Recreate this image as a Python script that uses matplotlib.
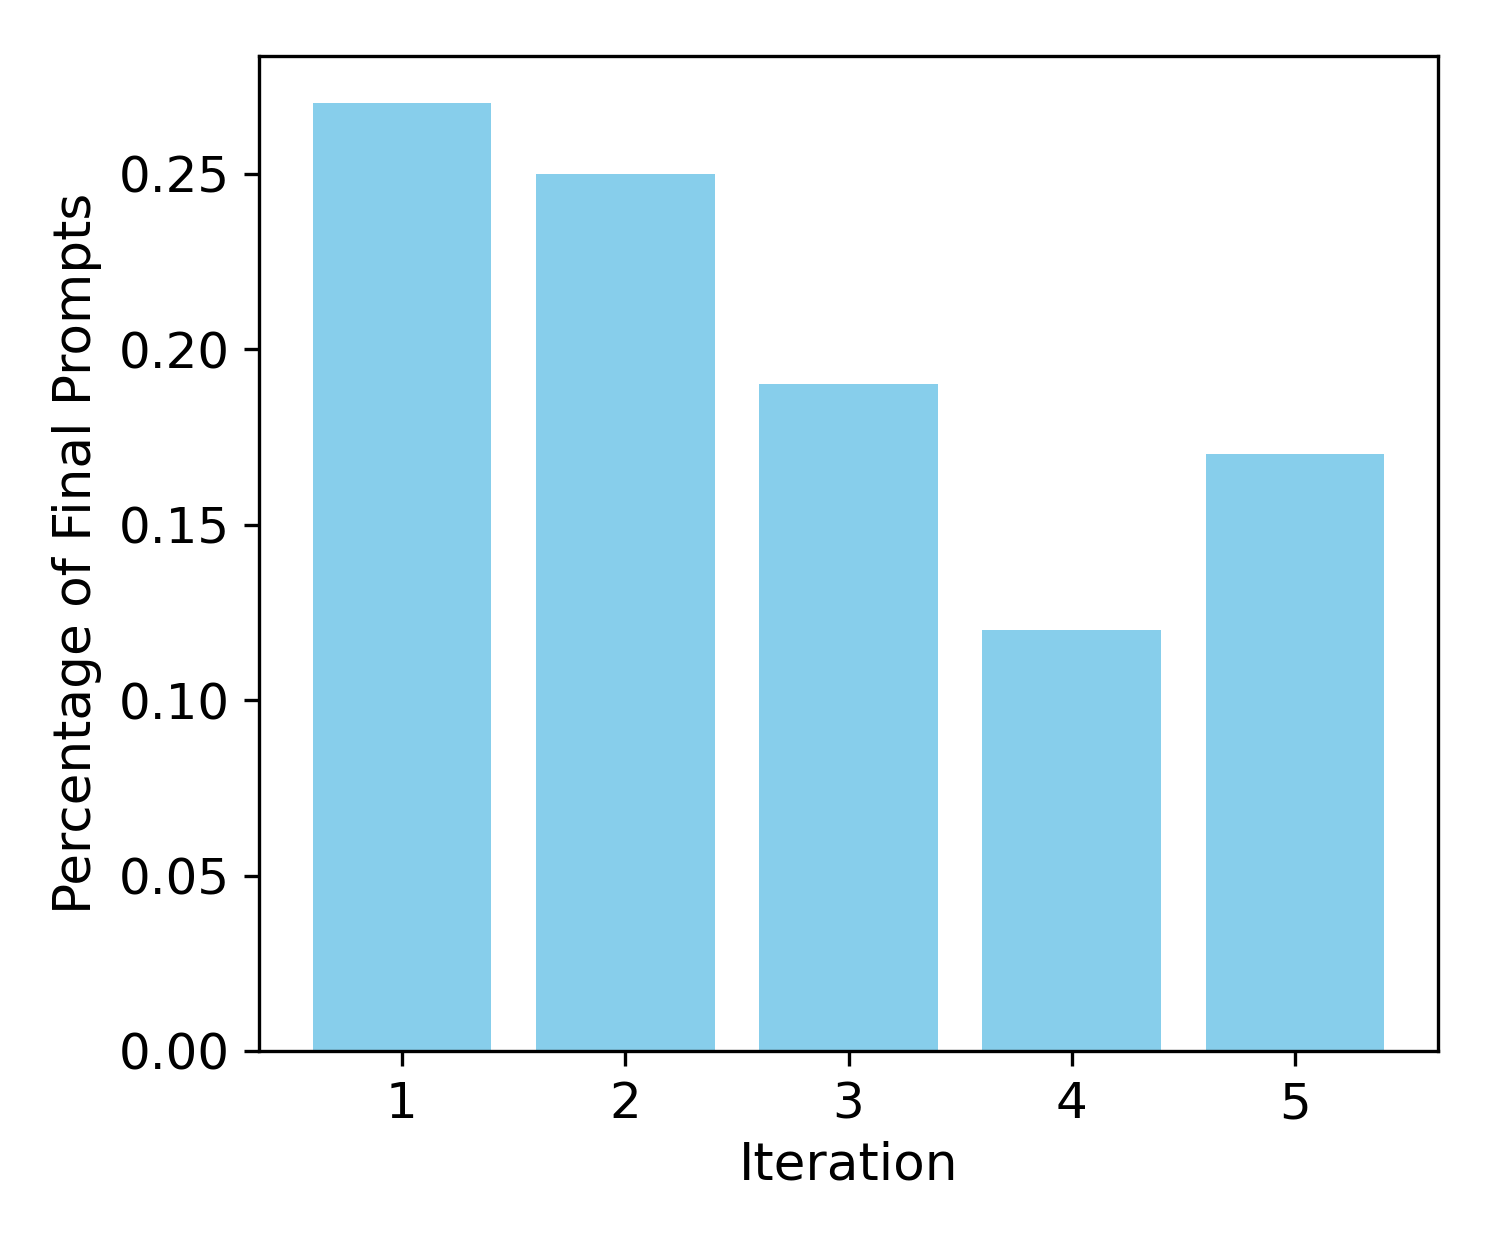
import matplotlib
matplotlib.use("Agg")
import matplotlib.pyplot as plt

iterations = [1, 2, 3, 4, 5]
percentages = [0.27, 0.25, 0.19, 0.12, 0.17]

fig = plt.figure(figsize=(14.95/3, 12.46/3), dpi=300)
ax = fig.add_axes([259/1495, 1-1051/1246, (1438-259)/1495, (1051-56)/1246])
ax.bar(iterations, percentages, color='skyblue', width=0.8)
ax.set_xticks(iterations)
ax.set_xlabel('Iteration', fontsize=12.4, labelpad=3)
ax.set_ylabel('Percentage of Final Prompts', fontsize=12.4)
ax.tick_params(labelsize=12)
fig.savefig('out.png', dpi=300)
